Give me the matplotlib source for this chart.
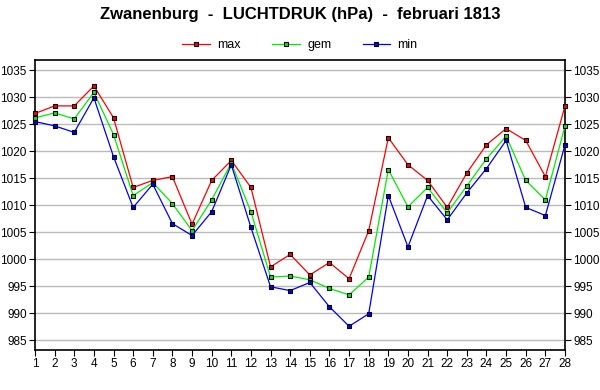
import numpy as np
import matplotlib
matplotlib.use("Agg")
import matplotlib.pyplot as plt

plt.rcParams['font.family'] = ['Liberation Sans', 'DejaVu Sans']

days = list(range(1, 29))
p_max = [1027.0, 1028.4, 1028.4, 1032.1, 1026.2, 1013.3, 1014.6, 1015.3, 1006.5, 1014.6,
         1018.3, 1013.3, 998.6, 1000.9, 997.1, 999.4, 996.4, 1005.3, 1022.5, 1017.5,
         1014.6, 1009.6, 1016.0, 1021.2, 1024.2, 1022.0, 1015.3, 1028.4]
p_gem = [1026.2, 1027.1, 1026.0, 1030.9, 1023.1, 1011.8, 1014.2, 1010.3, 1005.3, 1011.0,
         1017.8, 1008.8, 996.7, 996.9, 996.2, 994.6, 993.4, 996.7, 1016.6, 1009.7,
         1013.3, 1008.6, 1013.6, 1018.6, 1022.8, 1014.6, 1011.0, 1024.7]
p_min = [1025.5, 1024.7, 1023.5, 1029.9, 1019.0, 1009.6, 1013.9, 1006.6, 1004.4, 1008.8,
         1017.5, 1005.9, 994.9, 994.2, 995.7, 991.2, 987.6, 989.9, 1011.8, 1002.3,
         1011.8, 1007.3, 1012.3, 1016.8, 1022.0, 1009.6, 1008.1, 1021.2]
y_ticks = list(range(985, 1036, 5))

fig = plt.figure(figsize=(6, 3.9), dpi=100)
ax = fig.add_axes([35/600, 1 - 350/390, 530/600, 290/390])

series = [("max", p_max, "#ff0000"), ("gem", p_gem, "#00ee00"), ("min", p_min, "#0000ff")]
for name, vals, col in series:
    ax.plot(days, vals, color=col, lw=0.9, marker='s', ms=3.3, mfc=col, mec='black',
            mew=0.8, label=name, clip_on=False, zorder=3)

ax.set_xlim(1, 28)
ax.set_ylim(983.2, 1036.9)
ax.set_xticks(days)
ax.set_yticks(y_ticks)
ax.grid(axis='y', color='#bbbbbb', lw=1)
ax.set_axisbelow(True)
ax.tick_params(axis='both', direction='out', length=4, labelsize=8.5, pad=2)
ax.tick_params(axis='y', right=True, labelright=True)
for s in ax.spines.values():
    s.set_linewidth(1.2)

fig.text(0.5, 1 - 15/390, "Zwanenburg  -  LUCHTDRUK (hPa)  -  februari 1813",
         ha='center', va='center', fontsize=12, fontweight='bold')
fig.legend(loc='center', bbox_to_anchor=(0.5, 1 - 45/390), ncol=3, frameon=False,
           fontsize=9, handlelength=2.2, columnspacing=2.5, handletextpad=0.6)

fig.savefig("out.png", dpi=100)
